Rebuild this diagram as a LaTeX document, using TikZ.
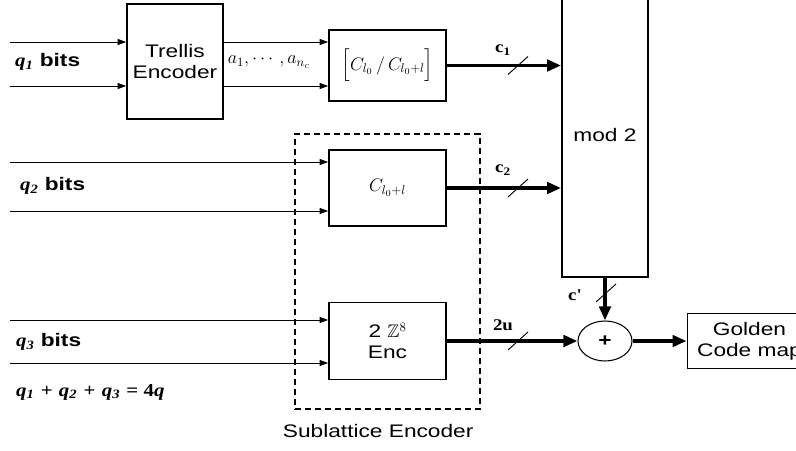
\RequirePackage{fix-cm}
\documentclass[tikz,border=0pt]{standalone}
\usepackage{amsmath}
\usepackage{amssymb}
\usepackage{fontspec}
\setmainfont[FakeStretch=1.25]{Liberation Sans}
\newfontfamily\tms[FakeStretch=1.15]{Liberation Serif}
\newcommand\qv[1]{{\tms\bfseries\itshape q\textsubscript{#1}}}
\usetikzlibrary{
arrows.meta,
positioning,
shapes.geometric,
calc
}

\begin{document}
\begin{tikzpicture}[
x=0.03cm,y=-0.03cm,
every node/.style={font=\fontsize{15.5}{18}\selectfont},
box/.style={
draw,
line width=1.6pt,
inner sep=0pt,
align=center
},
subbox/.style={draw,line width=1.1pt,dash pattern=on 0.18cm off 0.12cm},
sumnode/.style={
draw,
ellipse,
line width=0.9pt,
minimum width=1.62cm,
minimum height=1.2cm,
inner sep=0pt
},
lab/.style={font=\fontsize{14}{16}\selectfont\tms\bfseries},
arrow/.style={-{Triangle[length=0.25cm,width=0.18cm]},line width=0.8pt},
bus/.style={-{Triangle[length=0.42cm,width=0.34cm]},line width=3.4pt},
slash/.style={line width=0.8pt}
]
\useasboundingbox (0,0) rectangle (796,450);
\clip (0,0) rectangle (796,450);

\node[subbox,minimum width=5.55cm,minimum height=8.25cm] (sub) at (387.5,271.5) {};
\node[below=0.33cm of sub,xshift=-0.28cm] (sublab) {Sublattice Encoder};

\node[box,minimum width=2.88cm,minimum height=3.45cm] (trellis) at (175,61.5) {Trellis\\Encoder};
\node[box,minimum width=3.51cm,minimum height=2.13cm] (quot) at (387.5,65.5) {$\Big[C_{l_0}\,/\,C_{l_0+l}\Big]$};
\node[box,minimum width=3.51cm,minimum height=2.28cm] (coset) at (387.5,188) {$C_{l_0+l}$};
\node[box,minimum width=3.51cm,minimum height=2.31cm] (enc) at (387.5,341) {2 $\mathbb{Z}^8$\\Enc};
\node[box,minimum width=2.58cm,minimum height=8.49cm] (mod) at (605,135.5) {mod 2};
\node[sumnode] (sum) at (605,341) {\textbf{+}};
\node[box,right=1.62cm of sum,minimum width=3.72cm,minimum height=1.65cm] (golden) {Golden\\Code map};

\foreach \n/\y/\t in {1/42/trellis,2/86/trellis,3/162/coset,4/211/coset,5/320/enc,6/363/enc}{
\coordinate (in\n) at (10,\y);
\draw[arrow] (in\n) -- (in\n -| \t.west);
}
\foreach \y in {42,86}
\draw[arrow] (trellis.east |- 0,\y) -- (quot.west |- 0,\y);

\node[anchor=west] (q1lab) at (11,62) {\qv{1} \textbf{bits}};
\node[anchor=west] (q2lab) at (16,186) {\qv{2} \textbf{bits}};
\node[anchor=west] (q3lab) at (12,342) {\qv{3} \textbf{bits}};
\node[anchor=west] (qsum) at (12,392) {\qv{1} {\tms\bfseries+} \qv{2} {\tms\bfseries+} \qv{3} {\tms\bfseries= 4\itshape q}};
\node (alab) at (269,62) {$a_1,\cdots,a_{n_c}$};

\draw[bus] (quot.east) -- (quot.east -| mod.west);
\draw[bus] (coset.east) -- (coset.east -| mod.west);
\draw[bus] (enc.east) -- (sum.west);
\draw[bus] (mod.south) -- (sum.north);
\draw[bus] (sum.east) -- (golden.west);

\coordinate (s1) at (518,65.5);
\coordinate (s2) at (518,188);
\coordinate (s3) at (518,341);
\coordinate (s4) at (606,293);
\foreach \s in {s1,s2,s3,s4}
\draw[slash] ($(\s)+(-10,9)$) -- ($(\s)+(10,-9)$);

\node[lab] (c1) at (503,50) {c\textsubscript{1}};
\node[lab] (c2) at (503,170) {c\textsubscript{2}};
\node[lab] (u2) at (503,325) {2u};
\node[lab] (cp) at (575,295) {c'};

\end{tikzpicture}
\end{document}
